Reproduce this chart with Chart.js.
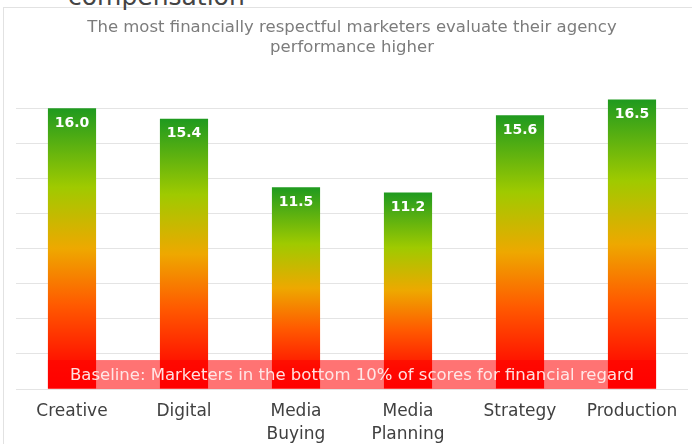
<!DOCTYPE html>
<html>
<head>
<meta charset="utf-8">
<script src="https://cdn.jsdelivr.net/npm/chart.js@4"></script>
<style>
    body { margin: 0; background: #fff; overflow: hidden; }
    .stage { position: relative; width: 692px; height: 444px; overflow: hidden; }
    .frame { position: absolute; left: 3px; top: 7px; width: 720px; height: 460px; border-top: 1px solid #e2e2e2; border-left: 1px solid #e2e2e2; }
    .heading { position: absolute; left: 68px; top: -16px; font: 25px/25px "DejaVu Sans", sans-serif; color: #444; white-space: nowrap; }
    canvas { position: absolute; left: 0; top: 0; }
</style>
</head>
<body>
<div class="stage">
    <div class="frame"></div>
    <div class="heading">compensation</div>
    <canvas id="scoreChart" width="692" height="444"></canvas>
</div>
<script>
const categories = ["Creative", "Digital", ["Media", "Buying"], ["Media", "Planning"], "Strategy", "Production"];
const scores = [16.0, 15.4, 11.5, 11.2, 15.6, 16.5];
const subtitleLines = ["The most financially respectful marketers evaluate their agency", "performance higher"];
const baselineText = "Baseline: Marketers in the bottom 10% of scores for financial regard";

(function () {
    const FONT = "'DejaVu Sans', sans-serif";

    function barGradient(context) {
        const chart = context.chart;
        if (!chart.chartArea) {
            return "#ff0000";
        }
        const yScale = chart.scales.y;
        const top = yScale.getPixelForValue(context.raw);
        const bottom = yScale.getPixelForValue(0);
        const gradient = chart.ctx.createLinearGradient(0, top, 0, bottom);
        gradient.addColorStop(0, "#1f9a1f");
        gradient.addColorStop(0.28, "#9fca00");
        gradient.addColorStop(0.5, "#eea800");
        gradient.addColorStop(0.7, "#ff5a00");
        gradient.addColorStop(0.9, "#ff1400");
        gradient.addColorStop(1, "#ff0000");
        return gradient;
    }

    // value labels inside the top of every bar
    const valueLabels = {
        id: "valueLabels",
        afterDatasetsDraw(chart) {
            const ctx = chart.ctx;
            const meta = chart.getDatasetMeta(0);
            ctx.save();
            ctx.fillStyle = "#ffffff";
            ctx.font = "bold 14px " + FONT;
            ctx.textAlign = "center";
            ctx.textBaseline = "middle";
            meta.data.forEach((bar, i) => {
                ctx.fillText(scores[i].toFixed(1), bar.x, bar.y + 15);
            });
            ctx.restore();
        }
    };

    // translucent red banner across the foot of the bars
    const baselineBand = {
        id: "baselineBand",
        afterDatasetsDraw(chart, args, opts) {
            const ctx = chart.ctx;
            const meta = chart.getDatasetMeta(0);
            const first = meta.data[0];
            const last = meta.data[meta.data.length - 1];
            const left = first.x - first.width / 2;
            const right = last.x + last.width / 2;
            const yScale = chart.scales.y;
            const top = yScale.getPixelForValue(opts.height);
            const bottom = yScale.getPixelForValue(0);
            ctx.save();
            ctx.fillStyle = "rgba(255, 0, 0, 0.55)";
            ctx.fillRect(left, top, right - left, bottom - top);
            ctx.fillStyle = "rgba(255, 236, 236, 0.95)";
            ctx.font = "16.5px " + FONT;
            ctx.textAlign = "center";
            ctx.textBaseline = "middle";
            ctx.fillText(baselineText, (left + right) / 2, (top + bottom) / 2 + 1);
            ctx.restore();
        }
    };

    new Chart(document.getElementById("scoreChart"), {
        type: "bar",
        data: {
            labels: categories,
            datasets: [
                {
                    data: scores,
                    backgroundColor: barGradient,
                    borderWidth: 0,
                    barPercentage: 0.43,
                    categoryPercentage: 1
                }
            ]
        },
        options: {
            responsive: false,
            animation: false,
            layout: { padding: { left: 16, right: 4 } },
            plugins: {
                legend: { display: false },
                tooltip: { enabled: false },
                title: {
                    display: true,
                    text: subtitleLines,
                    color: "#7c7c7c",
                    font: { family: FONT, size: 16.5, weight: "normal", lineHeight: 1.25 },
                    padding: { top: 17, bottom: 15 }
                },
                baselineBand: { height: 1.65 }
            },
            scales: {
                x: {
                    grid: { display: false, drawTicks: false },
                    border: { display: false },
                    afterFit: (scale) => {
                        scale.height = 55;
                    },
                    ticks: {
                        color: "#404040",
                        padding: 12,
                        maxRotation: 0,
                        autoSkip: false,
                        font: { family: FONT, size: 17, lineHeight: 1.3 }
                    }
                },
                y: {
                    min: 0,
                    max: 18,
                    ticks: { display: false, stepSize: 2 },
                    border: { display: false },
                    grid: {
                        drawTicks: false,
                        color: (c) => (c.tick && c.tick.value >= 18 ? "rgba(0,0,0,0)" : "#e4e4e4")
                    }
                }
            }
        },
        plugins: [valueLabels, baselineBand]
    });
})();
</script>
</body>
</html>
